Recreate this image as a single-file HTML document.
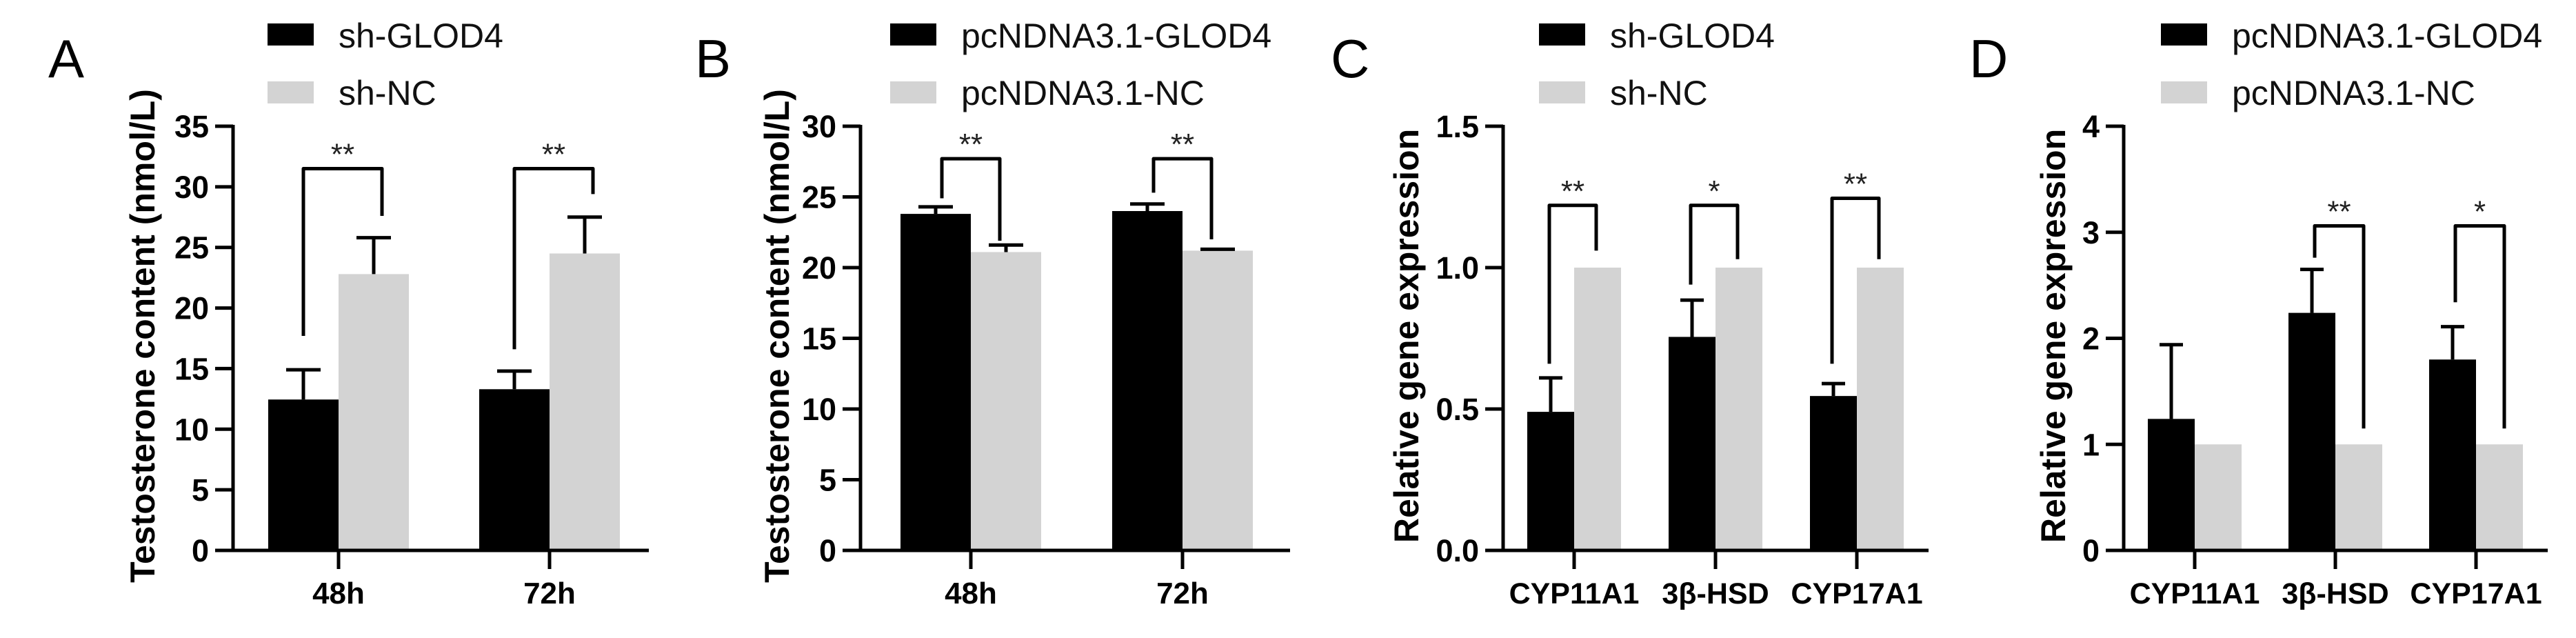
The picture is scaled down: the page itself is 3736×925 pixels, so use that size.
<!DOCTYPE html>
<html><head><meta charset="utf-8"><style>
html,body{margin:0;padding:0;background:#fff;}
svg{display:block;font-family:"Liberation Sans",Arial,sans-serif;}
</style></head><body>
<svg id="fig" width="3736" height="925" viewBox="0 0 3736 925"></svg>
<script>
// ---- Data ----
const catsTime = ["48h","72h"];
const catsGene = ["CYP11A1","3β-HSD","CYP17A1"];
const aBlack = [12.45, 13.3], aBlackErr = [14.9, 14.8];
const aGray = [22.8, 24.5], aGrayErr = [25.8, 27.5];
const aTicks = ["0","5","10","15","20","25","30","35"];
const aBrTop = [31.5, 31.5], aBrL = [17.7, 16.6], aBrR = [27.6, 29.4], aStars = ["**","**"];
const bBlack = [23.8, 24.0], bBlackErr = [24.3, 24.5];
const bGray = [21.1, 21.2], bGrayErr = [21.6, 21.3];
const bTicks = ["0","5","10","15","20","25","30"];
const bBrTop = [27.7, 27.7], bBrL = [24.9, 25.3], bBrR = [21.9, 22.0], bStars = ["**","**"];
const cBlack = [0.49, 0.755, 0.546], cBlackErr = [0.61, 0.885, 0.59];
const cGray = [1, 1, 1], cGrayErr = [1, 1, 1];
const cTicks = ["0.0","0.5","1.0","1.5"];
const cBrTop = [1.22, 1.22, 1.245], cBrL = [0.66, 0.94, 0.66], cBrR = [1.06, 1.03, 1.03], cStars = ["**","*","**"];
const dBlack = [1.24, 2.24, 1.80], dBlackErr = [1.94, 2.65, 2.11];
const dGray = [1, 1, 1], dGrayErr = [1, 1, 1];
const dTicks = ["0","1","2","3","4"];
const dBrTop = [null, 3.06, 3.06], dBrL = [null, 2.76, 2.34], dBrR = [null, 1.15, 1.15], dStars = ["","**","*"];

const NS = "http://www.w3.org/2000/svg";
const svg = document.getElementById("fig");
function mk(tag, attrs, parent){
  const e = document.createElementNS(NS, tag);
  for (const k in attrs) e.setAttribute(k, attrs[k]);
  (parent||svg).appendChild(e);
  return e;
}
const Y0 = 798, YT = 183;

function panel(p){
  const g = mk("g", {});
  
  
  const ymax = parseFloat(p.ticks[p.ticks.length-1]);
  const y = v => Y0 - (v / ymax) * (Y0 - YT);
  const n = p.cats.length;
  const xc = i => p.c0 + i * p.sp;
  // letter
  const L = mk("text", {x:p.letterX, y:112, "font-size":78}, g);
  L.textContent = p.id;
  
  
  // legend
  const names = [p.leg1, p.leg2], cols = ["#000","#d3d3d3"];
  for (let k=0;k<2;k++){
    const r = mk("rect", {x:p.legX, y:34+84*k, width:67, height:32, fill:cols[k]}, g);
    
    
    const t = mk("text", {x:p.legX+103, y:69+83*k, "font-size":50, fill:"#111"}, g);
    t.textContent = names[k];
    
    
  }
  // bars
  for (let i=0;i<n;i++){
    const c = xc(i);
    const b = mk("rect", {x:c-p.bw, y:y(p.black[i]), width:p.bw, height:Y0-y(p.black[i]), fill:"#000"}, g);
    
    
    const gb = mk("rect", {x:c, y:y(p.gray[i]), width:p.bw, height:Y0-y(p.gray[i]), fill:"#d3d3d3"}, g);
    
    
    const ser = [[c-p.bw/2, p.black[i], p.blackErr[i]], [c+p.bw/2, p.gray[i], p.grayErr[i]]];
    for (const [ex, v, e] of ser){
      if (e - v < 0.001*ymax) continue;
      const l = mk("path", {d:`M${ex} ${y(v)}V${y(e)}M${ex-p.cap} ${y(e)}H${ex+p.cap}`, stroke:"#000", "stroke-width":5, fill:"none"}, g);
      
      
    }
    if (p.brTop[i] != null){
      const lx = c - p.bw/2 + p.brOff, rx = c + p.bw/2 + p.brOff2;
      const br = mk("path", {d:`M${lx} ${y(p.brL[i])}V${y(p.brTop[i])}H${rx}V${y(p.brR[i])}`, stroke:"#000", "stroke-width":5, fill:"none", "stroke-linejoin":"round"}, g);
      
      
      const s = mk("text", {x:(lx+rx)/2, y:y(p.brTop[i])-6, "font-size":44, "text-anchor":"middle", fill:"#222"}, g);
      s.textContent = p.stars[i];
      
      
    }
    const tk = mk("line", {x1:c, x2:c, y1:Y0, y2:825, stroke:"#000", "stroke-width":5}, g);
    
    
    const xl = mk("text", {x:c, y:875, "font-size":p.xfs, "font-weight":"bold", "text-anchor":"middle"}, g);
    xl.textContent = p.cats[i];
    
    
  }
  // axes
  const ax = mk("path", {d:`M${p.ax} ${YT-2}V${Y0}H${p.axEnd}`, stroke:"#000", "stroke-width":5, fill:"none"}, g);
  
  
  for (const tl of p.ticks){
    const v = parseFloat(tl);
    const t = mk("line", {x1:p.ax-26, x2:p.ax, y1:y(v), y2:y(v), stroke:"#000", "stroke-width":5}, g);
    
    
    const lab = mk("text", {x:p.ax-35, y:y(v)+16, "font-size":45, "font-weight":"bold", "text-anchor":"end"}, g);
    lab.textContent = tl;
    
    
  }
  const yt = mk("text", {x:0, y:0, "font-size":50, "font-weight":"bold", "text-anchor":"middle", transform:`translate(${p.ytX+18},487) rotate(-90)`}, g);
  yt.textContent = p.ytitle;
  
  
}

panel({id:"A", cats:catsTime, black:aBlack, blackErr:aBlackErr, gray:aGray, grayErr:aGrayErr, ticks:aTicks,
  brTop:aBrTop, brL:aBrL, brR:aBrR, stars:aStars, c0:491, sp:306, bw:102, cap:25, brOff:0, brOff2:12,
  ax:338, axEnd:941, letterX:70, legX:388, leg1:"sh-GLOD4", leg2:"sh-NC", ytX:206, xfs:44,
  ytitle:"Testosterone content (nmol/L)"});
panel({id:"B", cats:catsTime, black:bBlack, blackErr:bBlackErr, gray:bGray, grayErr:bGrayErr, ticks:bTicks,
  brTop:bBrTop, brL:bBrL, brR:bBrR, stars:bStars, c0:1408, sp:307, bw:102, cap:25, brOff:9, brOff2:-9,
  ax:1248, axEnd:1871, letterX:1008, legX:1291, leg1:"pcNDNA3.1-GLOD4", leg2:"pcNDNA3.1-NC", ytX:1126, xfs:44,
  ytitle:"Testosterone content (nmol/L)"});
panel({id:"C", cats:catsGene, black:cBlack, blackErr:cBlackErr, gray:cGray, grayErr:cGrayErr, ticks:cTicks,
  brTop:cBrTop, brL:cBrL, brR:cBrR, stars:cStars, c0:2283, sp:205, bw:68, cap:17, brOff:-2, brOff2:-2,
  ax:2180, axEnd:2797, letterX:1930, legX:2232, leg1:"sh-GLOD4", leg2:"sh-NC", ytX:2039, xfs:43,
  ytitle:"Relative gene expression"});
panel({id:"D", cats:catsGene, black:dBlack, blackErr:dBlackErr, gray:dGray, grayErr:dGrayErr, ticks:dTicks,
  brTop:dBrTop, brL:dBrL, brR:dBrR, stars:dStars, c0:3183, sp:204, bw:68, cap:17, brOff:4, brOff2:7,
  ax:3080, axEnd:3695, letterX:2856, legX:3134, leg1:"pcNDNA3.1-GLOD4", leg2:"pcNDNA3.1-NC", ytX:2977, xfs:43,
  ytitle:"Relative gene expression"});
</script>
</body></html>
